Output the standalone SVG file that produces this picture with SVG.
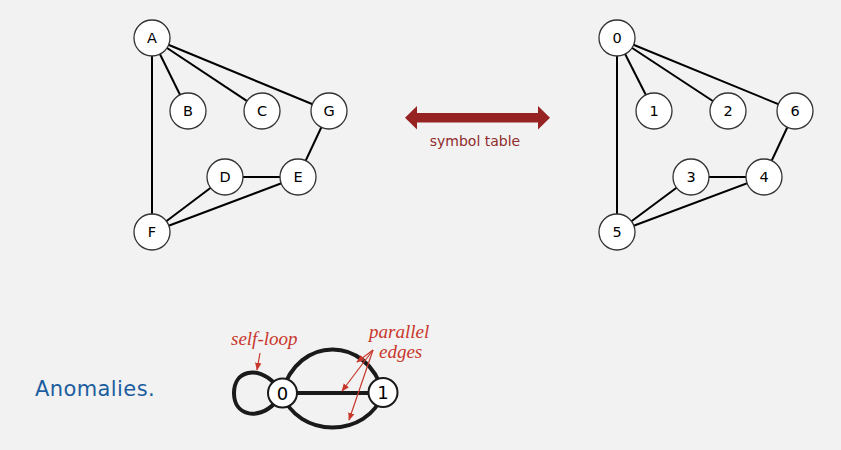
<svg xmlns="http://www.w3.org/2000/svg" width="841" height="450" viewBox="0 0 841 450">
<style>
  .edge { stroke: #000; stroke-width: 2; fill: none; }
  .node circle { fill: #fff; stroke: #333; stroke-width: 1.3; }
  .node text { font-family: "DejaVu Sans", "Liberation Sans", sans-serif; font-size: 14.5px; fill: #000; text-anchor: middle; }
  .thick { stroke: #1a1a1a; stroke-width: 4; fill: none; }
  .anode circle { fill: #fff; stroke: #1a1a1a; stroke-width: 2; }
  .anode text { font-family: "DejaVu Sans", "Liberation Sans", sans-serif; font-size: 18px; fill: #000; text-anchor: middle; }
  .note { font-family: "Liberation Serif", serif; font-style: italic; font-size: 19px; fill: #c8372b; }
  .ptr { stroke: #c8372b; stroke-width: 1.2; fill: none; marker-end: url(#ah); }
</style>
<defs>
  <marker id="ah" viewBox="0 0 10 10" refX="9" refY="5" markerWidth="8" markerHeight="8" markerUnits="userSpaceOnUse" orient="auto">
    <path d="M0,1 L10,5 L0,9 Z" fill="#c8372b"/>
  </marker>
</defs>
<rect x="0" y="0" width="841" height="450" fill="#f2f2f2"/>

<g id="connectors">
  <line class="edge" x1="152" y1="38" x2="188" y2="111"/>
  <line class="edge" x1="152" y1="38" x2="262" y2="111"/>
  <line class="edge" x1="152" y1="38" x2="329" y2="111"/>
  <line class="edge" x1="152" y1="38" x2="152" y2="232"/>
  <line class="edge" x1="329" y1="111" x2="298" y2="177"/>
  <line class="edge" x1="225" y1="177" x2="298" y2="177"/>
  <line class="edge" x1="225" y1="177" x2="152" y2="232"/>
  <line class="edge" x1="298" y1="177" x2="152" y2="232"/>

  <line class="edge" x1="617" y1="38" x2="654" y2="111"/>
  <line class="edge" x1="617" y1="38" x2="728" y2="111"/>
  <line class="edge" x1="617" y1="38" x2="795" y2="111"/>
  <line class="edge" x1="617" y1="38" x2="617" y2="232"/>
  <line class="edge" x1="795" y1="111" x2="764" y2="177"/>
  <line class="edge" x1="691" y1="177" x2="764" y2="177"/>
  <line class="edge" x1="691" y1="177" x2="617" y2="232"/>
  <line class="edge" x1="764" y1="177" x2="617" y2="232"/>

  <path class="thick" d="M274,383 C258,366 234,370 234,393 C234,416 258,420 274,404"/>
  <path class="thick" d="M282,393 C297,335 368,335 383,393"/>
  <line class="thick" x1="282" y1="393" x2="383" y2="393"/>
  <path class="thick" d="M282,393 C297,439 368,439 383,393"/>

  <line class="ptr" x1="260" y1="353" x2="257" y2="370"/>
  <line class="ptr" x1="373" y1="350" x2="357" y2="362"/>
  <line class="ptr" x1="373" y1="350" x2="342" y2="391"/>
  <line class="ptr" x1="373" y1="350" x2="349" y2="420"/>
</g>

<g id="node-A" class="node"><circle cx="152" cy="38" r="18"/><text x="152" y="43">A</text></g>
<g id="node-B" class="node"><circle cx="188" cy="111" r="18"/><text x="188" y="116">B</text></g>
<g id="node-C" class="node"><circle cx="262" cy="111" r="18"/><text x="262" y="116">C</text></g>
<g id="node-G" class="node"><circle cx="329" cy="111" r="18"/><text x="329" y="116">G</text></g>
<g id="node-D" class="node"><circle cx="225" cy="177" r="18"/><text x="225" y="182">D</text></g>
<g id="node-E" class="node"><circle cx="298" cy="177" r="18"/><text x="298" y="182">E</text></g>
<g id="node-F" class="node"><circle cx="152" cy="232" r="18"/><text x="152" y="237">F</text></g>

<g id="node-0" class="node"><circle cx="617" cy="38" r="18"/><text x="617" y="43">0</text></g>
<g id="node-1" class="node"><circle cx="654" cy="111" r="18"/><text x="654" y="116">1</text></g>
<g id="node-2" class="node"><circle cx="728" cy="111" r="18"/><text x="728" y="116">2</text></g>
<g id="node-6" class="node"><circle cx="795" cy="111" r="18"/><text x="795" y="116">6</text></g>
<g id="node-3" class="node"><circle cx="691" cy="177" r="18"/><text x="691" y="182">3</text></g>
<g id="node-4" class="node"><circle cx="764" cy="177" r="18"/><text x="764" y="182">4</text></g>
<g id="node-5" class="node"><circle cx="617" cy="232" r="18"/><text x="617" y="237">5</text></g>

<g id="symbol-table">
  <polygon points="405,117.7 417,106 417,113 538,113 538,106 550,117.7 538,129.4 538,122.4 417,122.4 417,129.4" fill="#972222"/>
  <text x="475" y="146" font-family="DejaVu Sans, Liberation Sans, sans-serif" font-size="14" fill="#8e2a2a" text-anchor="middle">symbol table</text>
</g>

<g id="anomalies">
  <text x="35" y="396" font-family="DejaVu Sans, Liberation Sans, sans-serif" font-size="21" letter-spacing="0.4" fill="#1d5e9e">Anomalies.</text>
  <g id="anode-0" class="anode"><circle cx="282.5" cy="393" r="14.5"/><text x="282.5" y="399.5">0</text></g>
  <g id="anode-1" class="anode"><circle cx="383" cy="392.5" r="14.5"/><text x="383" y="399">1</text></g>
  <text class="note" x="231" y="345">self-loop</text>
  <text class="note" x="369" y="337.5">parallel</text>
  <text class="note" x="379" y="358">edges</text>
</g>
</svg>
